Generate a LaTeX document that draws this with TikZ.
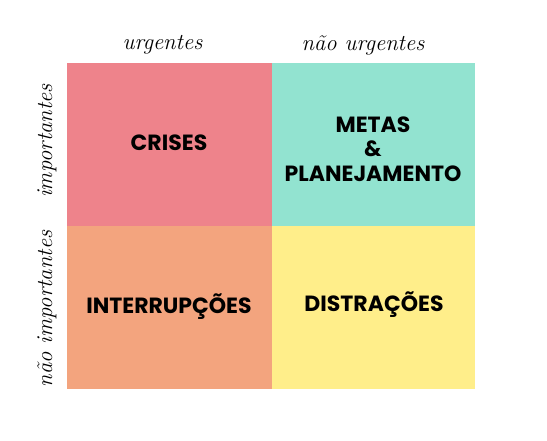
\documentclass[tikz,border=0pt]{standalone}
\usepackage{fontspec}
\newfontfamily\quadfont{Poppins}
\usetikzlibrary{positioning}

\definecolor{crisesred}{RGB}{238,131,139}
\definecolor{metasteal}{RGB}{146,227,208}
\definecolor{interorange}{RGB}{243,164,126}
\definecolor{distryellow}{RGB}{255,238,138}

\tikzset{every picture/.style={line width=0.75pt}}
\tikzset{
  quadtext/.style={inner sep=0.75pt, align=center, font=\quadfont\bfseries\fontsize{16.5}{18.5}\selectfont},
  axistext/.style={inner sep=0.75pt, font=\itshape\fontsize{17}{20}\selectfont}
}

\begin{document}
\begin{tikzpicture}[x=0.75pt,y=0.75pt,yscale=-1,xscale=1]
\path[use as bounding box] (0,0) rectangle (547,440); %set diagram to 547 x 440

%Shape: Rectangle [id:crises]
\fill [crisesred] (67,62.5) rectangle (271.5,225.7) ;
%Shape: Rectangle [id:metas]
\fill [metasteal] (271.5,62.5) rectangle (475,225.7) ;
%Shape: Rectangle [id:interrupcoes]
\fill [interorange] (67,225.7) rectangle (271.5,389) ;
%Shape: Rectangle [id:distracoes]
\fill [distryellow] (271.5,225.7) rectangle (475,389) ;

% Text Node
\node [quadtext] (crises) at (169,143) {CRISES};
% Text Node
\node [quadtext] (metas) at (373,149) {METAS\\\&\\PLANEJAMENTO};
% Text Node
\node [quadtext] (interrupcoes) at (169,307) {INTERRUPÇÕES};
% Text Node
\node [quadtext] (distracoes) at (374,305) {DISTRAÇÕES};

% Text Node
\node [axistext] (urgentes) at (162.5,45) {urgentes};
% Text Node
\node [axistext] (naourgentes) at (363,45) {não urgentes};
% Text Node
\node [axistext, rotate=90] (importantes) at (47,141) {importantes};
% Text Node
\node [axistext, rotate=90] (naoimportantes) at (47,309) {não importantes};

\end{tikzpicture}
\end{document}
